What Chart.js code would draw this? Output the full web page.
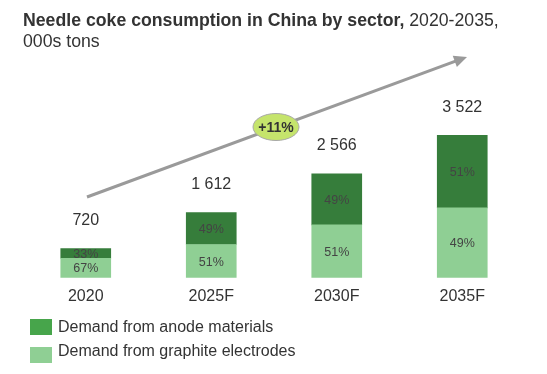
<!DOCTYPE html>
<html>
<head>
<meta charset="utf-8">
<script src="https://cdn.jsdelivr.net/npm/chart.js@4"></script>
<style>
  html, body { margin: 0; padding: 0; background: #fff; }
  body { width: 547px; height: 374px; position: relative; overflow: hidden; font-family: "Liberation Sans", Arial, sans-serif; color: #333; }
  #title { position: absolute; left: 23px; top: 10px; font-size: 17.7px; line-height: 21px; }
  #title b { font-weight: bold; }
  #wrap { position: absolute; left: 0; top: 0; width: 547px; height: 374px; }
  .leg { position: absolute; left: 30px; font-size: 16px; }
  .leg i { position: absolute; left: 0; width: 22px; height: 16px; }
  .leg span { position: absolute; left: 28px; white-space: nowrap; }
</style>
</head>
<body>
<div id="wrap"><canvas id="chart" width="547" height="374"></canvas></div>
<div id="title"><b>Needle coke consumption in China by sector,</b> 2020-2035,<br>000s tons</div>
<div class="leg" style="top:319px"><i style="background:#47a54b"></i><span style="top:-1px">Demand from anode materials</span></div>
<div class="leg" style="top:347px"><i style="background:#8fcf94"></i><span style="top:-5px">Demand from graphite electrodes</span></div>
<script>
const years = ['2020', '2025F', '2030F', '2035F'];
const anode = [238, 790, 1257, 1796];
const electrodes = [482, 822, 1309, 1726];
const totals = [720, 1612, 2566, 3522];
const cagrLabel = '+11%';

const fmt = n => String(n).replace(/\B(?=(\d{3})+(?!\d))/g, ' ');

const labelsPlugin = {
  id: 'labels',
  afterDatasetsDraw(chart) {
    const ctx = chart.ctx;
    ctx.save();
    ctx.textAlign = 'center';
    ctx.textBaseline = 'middle';
    // percent labels inside segments
    chart.data.datasets.forEach((ds, di) => {
      const meta = chart.getDatasetMeta(di);
      meta.data.forEach((bar, i) => {
        const pct = Math.round(ds.data[i] / totals[i] * 100) + '%';
        const top = Math.min(bar.y, bar.base), bot = Math.max(bar.y, bar.base);
        ctx.font = '12.5px "Liberation Sans", Arial, sans-serif';
        ctx.fillStyle = '#444';
        ctx.fillText(pct, bar.x, (top + bot) / 2 + 1);
      });
    });
    // totals above the stacks
    const topMeta = chart.getDatasetMeta(1);
    topMeta.data.forEach((bar, i) => {
      ctx.font = '16px "Liberation Sans", Arial, sans-serif';
      ctx.fillStyle = '#333';
      ctx.fillText(fmt(totals[i]), bar.x, bar.y - 28);
    });

    // growth arrow
    const x0 = 87, y0 = 197, x1 = 467, y1 = 57;
    const ang = Math.atan2(y1 - y0, x1 - x0);
    ctx.strokeStyle = '#9a9a9a';
    ctx.fillStyle = '#9a9a9a';
    ctx.lineWidth = 3;
    ctx.beginPath();
    ctx.moveTo(x0, y0);
    ctx.lineTo(x1 - 10 * Math.cos(ang), y1 - 10 * Math.sin(ang));
    ctx.stroke();
    ctx.beginPath();
    ctx.moveTo(x1, y1);
    ctx.lineTo(x1 - 13 * Math.cos(ang) + 6 * Math.sin(ang), y1 - 13 * Math.sin(ang) - 6 * Math.cos(ang));
    ctx.lineTo(x1 - 13 * Math.cos(ang) - 6 * Math.sin(ang), y1 - 13 * Math.sin(ang) + 6 * Math.cos(ang));
    ctx.closePath();
    ctx.fill();

    // CAGR bubble
    ctx.beginPath();
    ctx.ellipse(276, 127, 23, 13.5, 0, 0, Math.PI * 2);
    ctx.fillStyle = '#c5e46c';
    ctx.fill();
    ctx.lineWidth = 1;
    ctx.strokeStyle = '#a8a8a8';
    ctx.stroke();
    ctx.font = 'bold 14px "Liberation Sans", Arial, sans-serif';
    ctx.fillStyle = '#333';
    ctx.fillText(cagrLabel, 276, 128);
    ctx.restore();
  }
};

new Chart(document.getElementById('chart'), {
  type: 'bar',
  data: {
    labels: years,
    datasets: [
      { label: 'Demand from graphite electrodes', data: electrodes, backgroundColor: '#8fcf94', barThickness: 50 },
      { label: 'Demand from anode materials', data: anode, backgroundColor: '#367d3b', barThickness: 50 }
    ]
  },
  options: {
    responsive: false,
    animation: false,
    layout: { padding: { left: 23, right: 22, top: 60, bottom: 67 } },
    plugins: { legend: { display: false }, tooltip: { enabled: false } },
    scales: {
      x: {
        stacked: true,
        grid: { display: false },
        border: { display: false },
        ticks: { color: '#333', padding: 1, font: { size: 16, family: '"Liberation Sans", Arial, sans-serif' } }
      },
      y: { stacked: true, display: false, min: 0, max: 5380 }
    }
  },
  plugins: [labelsPlugin]
});
</script>
</body>
</html>
